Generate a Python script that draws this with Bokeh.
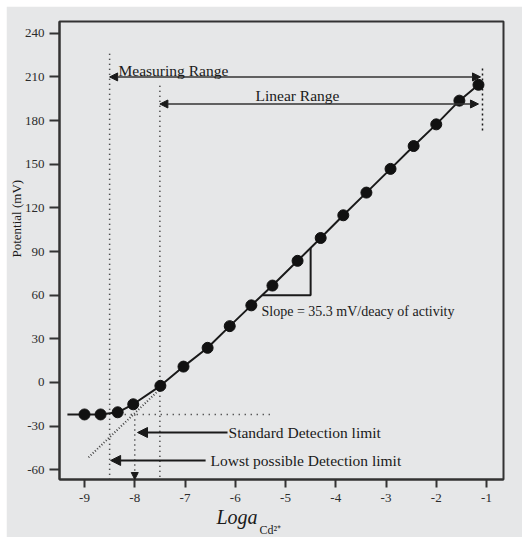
import numpy as np
from bokeh.plotting import figure
from bokeh.models import Arrow, NormalHead, Label, Range1d, FixedTicker, Title
from bokeh.embed import file_html
from bokeh.resources import INLINE

# ---- data ----
log_a = [-9.0, -8.68, -8.34, -8.03, -7.49, -7.03, -6.55, -6.11, -5.68, -5.26,
         -4.76, -4.30, -3.85, -3.39, -2.91, -2.45, -2.00, -1.54, -1.16]
potential = [-22.0, -22.0, -20.5, -15.0, -2.3, 10.9, 23.8, 38.7, 53.0, 66.6,
             83.6, 99.3, 114.9, 130.5, 146.8, 162.5, 177.4, 193.7, 204.6]
x_ticks = [-9, -8, -7, -6, -5, -4, -3, -2, -1]
y_ticks = [-60, -30, 0, 30, 60, 90, 120, 150, 180, 210, 240]

x_min, x_max = -9.4975, -0.662
y_min, y_max = -66.7, 248.1

# annotation anchors (data units)
flat_level = -22.0
line_start_x = -9.34
measuring_range = (-8.5, -1.12, 210.0)
linear_range = (-7.5, -1.16, 191.4)
meas_vline = (-8.5, 226.0)
lin_vline = (-7.5, 204.0)
right_vline = (-1.08, 215.8, 171.8)
extrap = ([-8.92, -7.4], [-51.5, -1.3])
hdot = (-8.2, -5.24)
std_dl = (-6.154, -7.945, -34.4)
low_dl = (-6.59, -8.48, -53.6)
slope_x, slope_y = -4.5, 60.0

FONT = "Liberation Serif"
BG = "#e6e7e8"
INK = "#1a1a1a"

p = figure(frame_width=444, frame_height=458, output_backend="svg", toolbar_location=None,
           x_range=Range1d(x_min, x_max), y_range=Range1d(y_min, y_max),
           min_border_left=53, min_border_right=19, min_border_top=15,
           min_border_bottom=58, background_fill_color=BG, border_fill_color=BG,
           margin=(6, 0, 0, 6))
p.grid.visible = False
p.outline_line_color = "#333333"
p.outline_line_width = 2

for ax in (p.xaxis[0], p.yaxis[0]):
    ax.axis_line_color = "#333333"
    ax.axis_line_width = 2
    ax.major_tick_line_color = "#333333"
    ax.major_tick_line_width = 2
    ax.major_tick_in = 0
    ax.minor_tick_line_color = None
    ax.major_label_text_font = FONT
    ax.major_label_text_font_size = "13px"
    ax.major_label_text_color = "#2b2b2b"
p.xaxis.ticker = FixedTicker(ticks=x_ticks)
p.yaxis.ticker = FixedTicker(ticks=y_ticks)
p.xaxis.major_label_overrides = {t: str(t) for t in x_ticks}
p.yaxis.major_label_overrides = {t: str(t) for t in y_ticks}
p.xaxis.major_tick_out = 8
p.yaxis.major_tick_out = 10
p.xaxis.major_label_standoff = 6
p.yaxis.major_label_standoff = 5

# axis titles (side panels, so they are not clipped to the frame)
p.add_layout(Title(text="Potential (mV)", align="left", offset=222, standoff=-5,
                   text_font=FONT, text_font_size="13px", text_font_style="normal",
                   text_color=INK), "left")
p.add_layout(Title(text="Loga", align="left", offset=157, standoff=-1,
                   text_font=FONT, text_font_size="20px", text_font_style="italic",
                   text_color=INK), "below")
p.add_layout(Title(text="Cd\u00b2\u207a", align="left", offset=200, standoff=-14,
                   text_font=FONT, text_font_size="12px", text_font_style="normal",
                   text_color=INK), "below")

# dotted guide lines
p.line([meas_vline[0], meas_vline[0]], [meas_vline[1], y_min], line_color=INK,
       line_width=1.5, line_dash="1 4")
p.line([lin_vline[0], lin_vline[0]], [lin_vline[1], y_min], line_color=INK,
       line_width=1.5, line_dash="1 4")
p.line([right_vline[0], right_vline[0]], [right_vline[1], right_vline[2]],
       line_color=INK, line_width=1.5, line_dash="2 3")
p.line([hdot[0], hdot[1]], [flat_level, flat_level], line_color=INK,
       line_width=1.5, line_dash="1 5")
p.line(extrap[0], extrap[1], line_color="#444444", line_width=2, line_dash="1 2")

# calibration curve
p.line([line_start_x] + log_a, [flat_level] + potential, line_color=INK, line_width=2)
p.scatter(log_a, potential, size=11, color="#111111")

# slope triangle
lin_x = np.array(log_a[5:])
lin_y = np.array(potential[5:])
x_h = float(np.interp(slope_y, lin_y, lin_x))
y_v = float(np.interp(slope_x, lin_x, lin_y))
p.line([x_h, slope_x, slope_x], [slope_y, slope_y, y_v], line_color=INK, line_width=2)

# arrows
def head(sz):
    return NormalHead(size=sz, fill_color=INK, line_color=INK, line_width=1)

p.add_layout(Arrow(x_start=measuring_range[0], x_end=measuring_range[1],
                   y_start=measuring_range[2], y_end=measuring_range[2],
                   start=head(8), end=head(8), line_color="#333333", line_width=1.5))
p.add_layout(Arrow(x_start=linear_range[0], x_end=linear_range[1],
                   y_start=linear_range[2], y_end=linear_range[2],
                   start=head(8), end=head(8), line_color="#333333", line_width=1.5))
p.add_layout(Arrow(x_start=std_dl[0], x_end=std_dl[1], y_start=std_dl[2], y_end=std_dl[2],
                   end=head(10), line_color=INK, line_width=2))
p.add_layout(Arrow(x_start=low_dl[0], x_end=low_dl[1], y_start=low_dl[2], y_end=low_dl[2],
                   end=head(10), line_color=INK, line_width=2))
p.add_layout(Arrow(x_start=-8.0, x_end=-8.0, y_start=flat_level, y_end=y_min,
                   end=head(7), line_color=INK, line_width=1.5, line_dash="1 4"))

# texts inside the frame
def lab(x, y, t, size, baseline="alphabetic"):
    p.add_layout(Label(x=x, y=y, text=t, text_font=FONT, text_font_size=size,
                       text_align="left", text_baseline=baseline, text_color=INK))

lab(-8.323, 214.5, "Measuring Range", "15.5px")
lab(-5.597, 197.5, "Linear Range", "15.5px")
lab(-5.478, 48.8, "Slope = 35.3 mV/deacy of activity", "14px", baseline="middle")
lab(-6.134, -34.4, "Standard Detection limit", "15.5px", baseline="middle")
lab(-6.493, -53.6, "Lowst possible Detection limit", "15.5px", baseline="middle")

open("out.html", "w").write(file_html(p, INLINE))
